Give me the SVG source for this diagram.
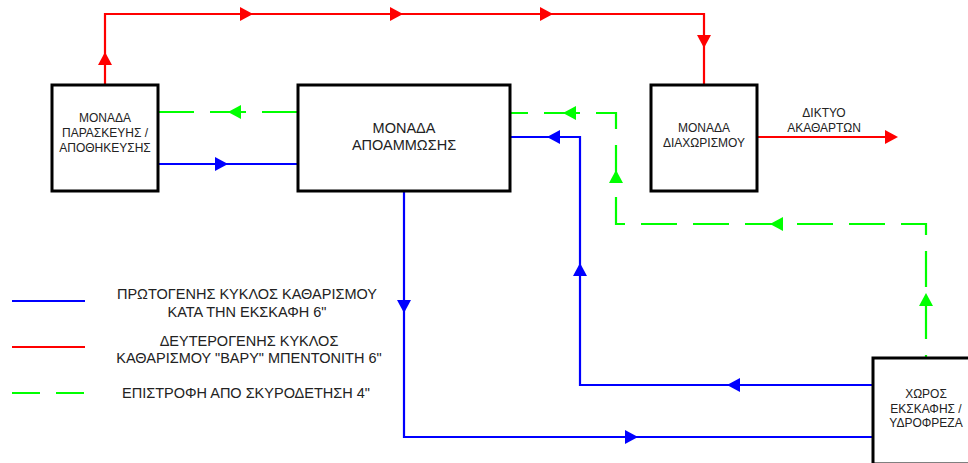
<svg xmlns="http://www.w3.org/2000/svg" xmlns:xlink="http://www.w3.org/1999/xlink" width="968" height="463" viewBox="0 0 968 463">
<style>
  .box { fill: #fff; stroke: #000; stroke-width: 3; }
  .t { font-family: "Liberation Sans", Arial, sans-serif; fill: #222; text-anchor: middle; }
  .s12 { font-size: 12px; }
  .s14 { font-size: 14.5px; }
  .red { fill: none; stroke: #ff0000; stroke-width: 2.2; }
  .blue { fill: none; stroke: #0000ff; stroke-width: 2.2; }
  .green { fill: none; stroke: #00ff00; stroke-width: 2.2; stroke-dasharray: 36 16; }
  .ar { fill: #ff0000; }
  .ab { fill: #0000ff; }
  .ag { fill: #00ff00; }
</style>
<defs>
  <path id="ah" d="M0,0 L-13,-7 L-13,7 Z"/>
</defs>
<rect width="968" height="463" fill="#fff"/>

<g id="connectors">
  <path class="red" d="M105,85 V14 H704 V85"/>
  <path class="red" d="M757,137 H886"/>
  <path class="blue" d="M158,164 H298"/>
  <path class="blue" d="M510,137 H580 V385 H873"/>
  <path class="blue" d="M404,191 V437 H873"/>
  <path class="green" d="M158,112 H298"/>
  <path class="green" style="stroke-dashoffset:18" d="M510,113 H616 V224 H926 V358"/>

  <use xlink:href="#ah" class="ar" transform="translate(105,52) rotate(-90)"/>
  <use xlink:href="#ah" class="ar" transform="translate(253,14)"/>
  <use xlink:href="#ah" class="ar" transform="translate(403,14)"/>
  <use xlink:href="#ah" class="ar" transform="translate(553,14)"/>
  <use xlink:href="#ah" class="ar" transform="translate(704,48) rotate(90)"/>
  <use xlink:href="#ah" class="ar" transform="translate(898,137)"/>

  <use xlink:href="#ah" class="ab" transform="translate(228,164)"/>
  <use xlink:href="#ah" class="ab" transform="translate(547,137) rotate(180)"/>
  <use xlink:href="#ah" class="ab" transform="translate(580,263) rotate(-90)"/>
  <use xlink:href="#ah" class="ab" transform="translate(727,385) rotate(180)"/>
  <use xlink:href="#ah" class="ab" transform="translate(404,313) rotate(90)"/>
  <use xlink:href="#ah" class="ab" transform="translate(638,437)"/>

  <use xlink:href="#ah" class="ag" transform="translate(228,112) rotate(180)"/>
  <use xlink:href="#ah" class="ag" transform="translate(563,113) rotate(180)"/>
  <use xlink:href="#ah" class="ag" transform="translate(616,170) rotate(-90)"/>
  <use xlink:href="#ah" class="ag" transform="translate(770,224) rotate(180)"/>
  <use xlink:href="#ah" class="ag" transform="translate(926,293) rotate(-90)"/>

  <text class="t s12" x="824" y="117">ΔΙΚΤΥΟ</text>
  <text class="t s12" x="824" y="132">ΑΚΑΘΑΡΤΩΝ</text>
</g>

<g id="node-paraskevi">
  <rect class="box" x="52" y="85" width="106" height="106"/>
  <text class="t s12" x="105" y="122">ΜΟΝΑΔΑ</text>
  <text class="t s12" x="105" y="137">ΠΑΡΑΣΚΕΥΗΣ /</text>
  <text class="t s12" x="105" y="152">ΑΠΟΘΗΚΕΥΣΗΣ</text>
</g>

<g id="node-apoammosi">
  <rect class="box" x="298" y="85" width="212" height="106"/>
  <text class="t s14" x="404" y="133">ΜΟΝΑΔΑ</text>
  <text class="t s14" x="404" y="150">ΑΠΟΑΜΜΩΣΗΣ</text>
</g>

<g id="node-diaxorismos">
  <rect class="box" x="651" y="85" width="106" height="106"/>
  <text class="t s12" x="704" y="132">ΜΟΝΑΔΑ</text>
  <text class="t s12" x="704" y="147">ΔΙΑΧΩΡΙΣΜΟΥ</text>
</g>

<g id="node-xoros">
  <rect class="box" x="873" y="358" width="106" height="106"/>
  <text class="t s12" x="926" y="398">ΧΩΡΟΣ</text>
  <text class="t s12" x="926" y="413">ΕΚΣΚΑΦΗΣ /</text>
  <text class="t s12" x="926" y="427">ΥΔΡΟΦΡΕΖΑ</text>
</g>

<g id="legend">
  <line x1="12" y1="301" x2="85" y2="301" stroke="#0000ff" stroke-width="2.2"/>
  <line x1="12" y1="347" x2="85" y2="347" stroke="#ff0000" stroke-width="2.2"/>
  <line x1="12" y1="393" x2="85" y2="393" stroke="#00ff00" stroke-width="2.2" stroke-dasharray="28 16"/>
  <text class="t s14" x="247" y="299">ΠΡΩΤΟΓΕΝΗΣ ΚΥΚΛΟΣ ΚΑΘΑΡΙΣΜΟΥ</text>
  <text class="t s14" x="247" y="317">ΚΑΤΑ ΤΗΝ ΕΚΣΚΑΦΗ 6"</text>
  <text class="t s14" x="249" y="346">ΔΕΥΤΕΡΟΓΕΝΗΣ ΚΥΚΛΟΣ</text>
  <text class="t s14" x="249" y="363">ΚΑΘΑΡΙΣΜΟΥ "ΒΑΡΥ" ΜΠΕΝΤΟΝΙΤΗ 6"</text>
  <text class="t s14" x="246" y="398">ΕΠΙΣΤΡΟΦΗ ΑΠΟ ΣΚΥΡΟΔΕΤΗΣΗ 4"</text>
</g>
</svg>
